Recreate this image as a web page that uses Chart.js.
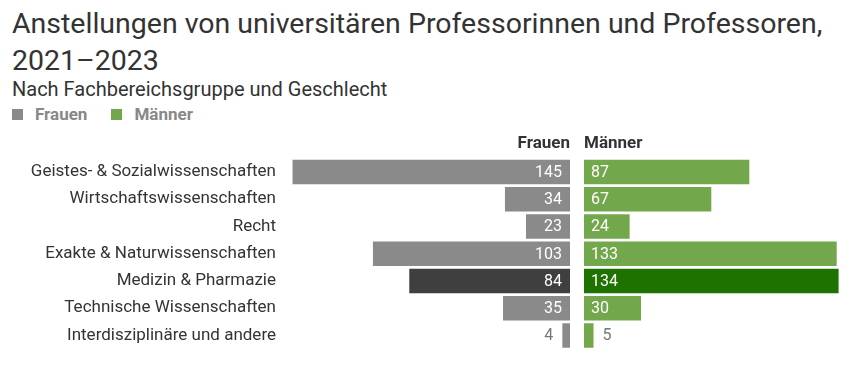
<!DOCTYPE html>
<html>
<head>
<meta charset="utf-8">
<script src="https://cdn.jsdelivr.net/npm/chart.js@4"></script>
<style>
  body { margin: 0; background: #fff; font-family: Roboto, sans-serif; color: #333; }
  #wrap { position: relative; width: 854px; height: 369px; overflow: hidden; }
  .title { position: absolute; left: 12px; top: 5px; font-size: 28.5px; line-height: 37px; color: #333; }
  .subtitle { position: absolute; left: 12px; top: 77px; font-size: 20px; line-height: 24px; color: #333; }
  .legend { position: absolute; left: 12px; top: 104px; font-size: 17px; line-height: 20px; font-weight: bold; color: #888; }
  .legend span.sw { display: inline-block; width: 11px; height: 11px; margin-right: 12px; }
  .legend span.item { margin-right: 24px; }
  #left { position: absolute; left: 0; top: 130px; width: 570px; height: 219px; }
  #right { position: absolute; left: 584px; top: 130px; width: 270px; height: 219px; }
</style>
</head>
<body>
<div id="wrap">
  <div class="title">Anstellungen von universitären Professorinnen und Professoren,<br>2021–2023</div>
  <div class="subtitle">Nach Fachbereichsgruppe und Geschlecht</div>
  <div class="legend"><span class="sw" style="background:#8a8a8a"></span><span class="item">Frauen</span><span class="sw" style="background:#72a74b"></span><span class="item">Männer</span></div>
  <div id="left"><canvas id="cLeft"></canvas></div>
  <div id="right"><canvas id="cRight"></canvas></div>
</div>
<script>
const categories = [
  'Geistes- & Sozialwissenschaften',
  'Wirtschaftswissenschaften',
  'Recht',
  'Exakte & Naturwissenschaften',
  'Medizin & Pharmazie',
  'Technische Wissenschaften',
  'Interdisziplinäre und andere'
];
const frauen = [145, 34, 23, 103, 84, 35, 4];
const maenner = [87, 67, 24, 133, 134, 30, 5];
const highlight = 'Medizin & Pharmazie';

const greyCol = '#8a8a8a', greyDark = '#3f3f3f';
const greenCol = '#72a74b', greenDark = '#1e7200';

// value labels: inside the bar when it fits, otherwise outside in grey
const valueLabels = {
  id: 'valueLabels',
  afterDatasetsDraw(chart, args, opts) {
    const ctx = chart.ctx;
    const meta = chart.getDatasetMeta(0);
    const vals = chart.data.datasets[0].data;
    ctx.save();
    ctx.font = '16px Roboto';
    ctx.textBaseline = 'middle';
    meta.data.forEach((bar, i) => {
      const txt = String(vals[i]);
      const w = ctx.measureText(txt).width;
      const len = Math.abs(bar.x - bar.base);
      const inside = len > w + 10;
      ctx.fillStyle = inside ? '#fff' : '#777';
      if (opts.side === 'left') {
        ctx.textAlign = 'right';
        ctx.fillText(txt, inside ? bar.base - 8 : bar.x - 9, bar.y + 1);
      } else {
        ctx.textAlign = 'left';
        ctx.fillText(txt, inside ? bar.base + 7 : bar.x + 9, bar.y + 1);
      }
    });
    ctx.restore();
  }
};

Chart.defaults.font.family = 'Roboto, sans-serif';
Chart.defaults.animation = false;

new Chart(document.getElementById('cLeft'), {
  type: 'bar',
  data: {
    labels: categories,
    datasets: [{
      label: 'Frauen',
      data: frauen,
      backgroundColor: categories.map(c => c === highlight ? greyDark : greyCol),
      barPercentage: 0.9,
      categoryPercentage: 1
    }]
  },
  plugins: [valueLabels],
  options: {
    indexAxis: 'y',
    responsive: true,
    maintainAspectRatio: false,
    layout: { padding: 0 },
    plugins: {
      legend: { display: false },
      tooltip: { enabled: false },
      title: {
        display: true, text: 'Frauen', align: 'end',
        color: '#333', font: { size: 17, weight: 'bold' },
        padding: { top: 4, bottom: 4 }
      },
      valueLabels: { side: 'left' }
    },
    scales: {
      x: { reverse: true, min: 0, max: 150, display: false },
      y: {
        grid: { display: false, drawTicks: false }, border: { display: false },
        ticks: { color: '#333', font: { size: 17 }, padding: 7 },
        afterFit(scale) {
          scale.width = 283;
          scale.paddingTop = 0;
          scale.paddingBottom = 0;
        }
      }
    }
  }
});

new Chart(document.getElementById('cRight'), {
  type: 'bar',
  data: {
    labels: categories,
    datasets: [{
      label: 'Männer',
      data: maenner,
      backgroundColor: categories.map(c => c === highlight ? greenDark : greenCol),
      barPercentage: 0.9,
      categoryPercentage: 1
    }]
  },
  plugins: [valueLabels],
  options: {
    indexAxis: 'y',
    responsive: true,
    maintainAspectRatio: false,
    layout: { padding: { right: 4 } },
    plugins: {
      legend: { display: false },
      tooltip: { enabled: false },
      title: {
        display: true, text: 'Männer', align: 'start',
        color: '#333', font: { size: 17, weight: 'bold' },
        padding: { top: 4, bottom: 4 }
      },
      valueLabels: { side: 'right' }
    },
    scales: {
      x: { min: 0, max: 140, display: false },
      y: { display: false }
    }
  }
});
</script>
</body>
</html>
